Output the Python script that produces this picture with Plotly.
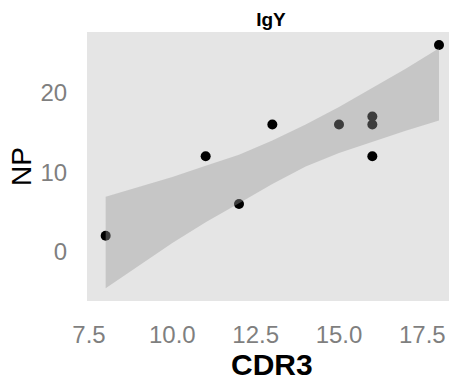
import plotly.graph_objects as go

# Observations: CDR3 length vs NP
cdr3 = [8, 11, 12, 13, 15, 16, 16, 16, 18]
np_vals = [2, 12, 6, 16, 16, 17, 16, 12, 26]

# Confidence band of the linear fit (lower / upper edge)
band_x = [8, 9, 10, 11, 12, 13, 14, 15, 16, 17, 18]
band_lo = [-4.6, -1.7, 1.1, 3.7, 6.1, 8.5, 10.7, 12.4, 13.8, 15.2, 16.5]
band_hi = [6.9, 8.1, 9.4, 10.8, 12.2, 14.0, 16.0, 18.2, 20.6, 23.0, 25.6]

x_ticks = [7.5, 10.0, 12.5, 15.0, 17.5]
x_tick_text = ["7.5", "10.0", "12.5", "15.0", "17.5"]
y_ticks = [0, 10, 20]

PANEL_TOP, PANEL_BOTTOM = 32, 301
panel_h = PANEL_BOTTOM - PANEL_TOP

fig = go.Figure()

fig.add_trace(go.Scatter(
    x=cdr3, y=np_vals, mode="markers",
    marker=dict(color="black", size=10, line=dict(width=0)),
    showlegend=False, hoverinfo="x+y",
))

# band drawn over the points, semi-transparent
fig.add_trace(go.Scatter(
    x=band_x + band_x[::-1],
    y=band_hi + band_lo[::-1],
    fill="toself", mode="lines",
    line=dict(width=0),
    fillcolor="rgba(153,153,153,0.4)",
    showlegend=False, hoverinfo="skip",
))

fig.add_annotation(
    text="<b>CDR3</b>", xref="x", x=12.98, yref="paper",
    y=-(364 - PANEL_BOTTOM) / panel_h, yanchor="middle", xanchor="center",
    showarrow=False, font=dict(size=30, color="black"),
)

fig.update_layout(
    width=449, height=381,
    margin=dict(l=87, r=0, t=PANEL_TOP, b=381 - PANEL_BOTTOM),
    paper_bgcolor="white",
    plot_bgcolor="#E5E5E5",
    font=dict(family="Liberation Sans, Arial, sans-serif"),
    title=dict(
        text="<b>IgY</b>", x=(87 + 455) / 2 / 449, xref="container", xanchor="center",
        y=1 - 19 / 381, yref="container", yanchor="middle",
        font=dict(size=19, color="black"),
    ),
    xaxis=dict(
        range=[7.44, 18.3], tickvals=x_ticks, ticktext=x_tick_text,
        showgrid=False, zeroline=False, showline=False,
        ticks="outside", ticklen=12, tickcolor="rgba(0,0,0,0)",
        tickfont=dict(size=24, color="#7F7F7F"),
    ),
    yaxis=dict(
        range=[-6.2, 27.63], tickvals=y_ticks,
        showgrid=False, zeroline=False, showline=False,
        ticks="outside", ticklen=14, tickcolor="rgba(0,0,0,0)",
        tickfont=dict(size=24, color="#7F7F7F"),
        title=dict(text="NP", font=dict(size=28, color="black"), standoff=0),
    ),
)

fig.write_html("out.html")
